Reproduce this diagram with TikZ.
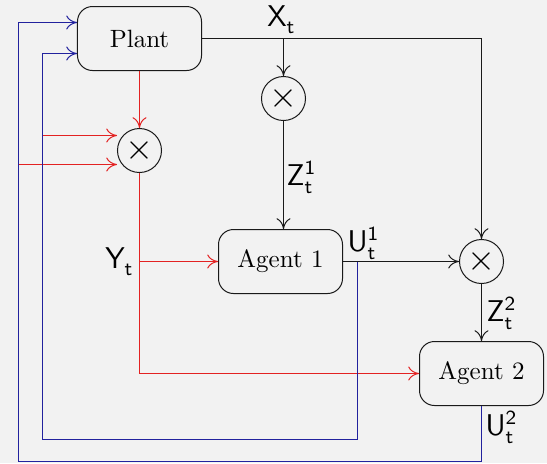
\documentclass[tikz,border=0pt]{standalone}
\usetikzlibrary{arrows.meta,calc,positioning}
\definecolor{bg}{HTML}{F2F2F2}
\definecolor{ink}{HTML}{1A1A1A}
\definecolor{sigred}{HTML}{E32222}
\definecolor{sigblue}{HTML}{22229E}
\newcommand{\sv}[2]{\mathsf{#1}_{\mathsf{t}}^{\mathsf{#2}}}
\tikzset{>={Computer Modern Rightarrow[length=4.3pt,width=5.6pt]},line width=.6pt,
  block/.style={draw=ink,rounded corners=6pt,minimum width=49.6pt,minimum height=25.6pt,inner sep=0pt},
  mult/.style={draw=ink,circle,minimum size=17.6pt,inner sep=0pt,font=\Large},
  sig/.style={->,draw=ink},
  fb/.style={->,draw=sigred},
  ctl/.style={->,draw=sigblue},
  lab/.style={font=\large,inner sep=0pt}}

\begin{document}
\begin{tikzpicture}[x=0.4pt,y=-0.4pt]

\fill[bg] (-.5,-.5) rectangle (546.5,462.5);
\node[block] (plant) at (139,38) {Plant};
\node[block] (agent1) at (280,261) {Agent 1};
\node[block] (agent2) at (481,373) {Agent 2};
\node[mult] (m1) at (139,150) {$\times$};
\node[mult] (m2) at (283,98) {$\times$};
\node[mult] (m3) at (481,261) {$\times$};
% junctions
\coordinate (jx) at (m2 |- plant.east);\coordinate (jy) at (m1 |- agent1.west);
\coordinate (ju1) at (357,261);\coordinate (c1) at (42,439);\coordinate (c2) at (18,461);
\coordinate (y1) at (42,135);\coordinate (y2) at (18,164);
\draw[sig] (plant.east) -| (m3.north);\draw[sig] (jx) -- (m2.north);
\draw[sig] (m2.south) -- (m2 |- agent1.north);\draw[sig] (agent1.east) -- (m3.west);
\draw[sig] (m3.south) -- (agent2.north);
\draw[fb] (plant.south) -- (m1.north);\draw[fb] (m1.south) |- (agent2.west);
\draw[fb] (jy) -- (agent1.west);
\draw[fb] (y1) -- (y1 -| m1.west);\draw[fb] (y2) -- (y2 -| m1.west);
\draw[ctl] (ju1) |- (c1) |- ($(plant.west)+(0,15)$);
\draw[ctl] (agent2.south) |- (c2) |- ($(plant.west)+(0,-16)$);
\node[lab] (lx) at (281,19) {$\sv{X}{}$};
\node[lab] (lz1) at (301,177) {$\sv{Z}{1}$};
\node[lab] (lu1) at (363,243) {$\sv{U}{1}$};
\node[lab] (lz2) at (501,313) {$\sv{Z}{2}$};
\node[lab] (lu2) at (501,427) {$\sv{U}{2}$};
\node[lab] (ly) at (119,261) {$\sv{Y}{}$};
\end{tikzpicture}
\end{document}
